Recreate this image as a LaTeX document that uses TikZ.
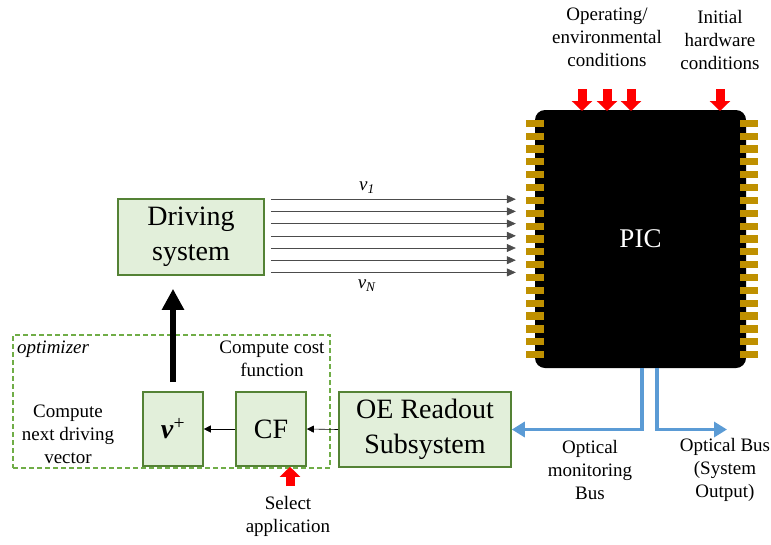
\documentclass[tikz,border=0pt]{standalone}
\usepackage{fontspec}
\setmainfont{Liberation Serif}
\usepackage{tikz}
\usetikzlibrary{arrows.meta,calc,positioning}

\definecolor{boxfill}{HTML}{E2EFDA}
\definecolor{boxline}{HTML}{548235}
\definecolor{optline}{HTML}{70AD47}
\definecolor{pingold}{HTML}{BF9000}
\definecolor{busblue}{HTML}{5B9BD5}

\tikzset{
    blk/.style={draw=boxline, fill=boxfill, line width=1.6pt, inner sep=0pt, align=center},
    lbl/.style={inner sep=0pt, align=center, font=\fontsize{19}{23}\selectfont},
    sig/.style={draw=black!70, line width=0.6pt, -{Triangle[length=9pt,width=8pt]}},
    link/.style={line width=0.6pt, -{Triangle[length=7pt,width=7pt]}},
    redarrow/.style={red, line width=9pt, -{Triangle[length=10pt,width=20pt]}},
    bus/.style={busblue, line width=3.5pt, -{Triangle[length=13pt,width=15pt]}},
    pin/.style={fill=pingold, draw=none}
}

\begin{document}
\begin{tikzpicture}[x=1pt, y=-1pt]
    \useasboundingbox (0,0) rectangle (771,544);

    \node[blk, minimum width=146pt, minimum height=76pt, font=\fontsize{28}{35}\selectfont] (drv) at (191,237) {Driving\\system};
    \node[draw=optline, dash pattern=on 5pt off 3pt, line width=1.2pt, minimum width=317pt, minimum height=133pt, inner sep=0pt] (opt) at (171.5,401.5) {};
    \node[lbl, anchor=west, font=\fontsize{19}{23}\selectfont\itshape] (optname) at (17,349) {optimizer};
    \node[blk, minimum width=60pt, minimum height=74pt, font=\fontsize{28}{34}\selectfont] (vplus) at (173,429) {\textbf{\textit{v}}\textsuperscript{+}};
    \node[blk, minimum width=70pt, minimum height=74pt, font=\fontsize{28}{34}\selectfont] (cf) at (271,429) {CF};
    \node[blk, minimum width=172pt, minimum height=75pt, font=\fontsize{28}{35}\selectfont] (oe) at (425,429.5) {OE Readout\\Subsystem};

    \node[fill=black, rounded corners=10pt, minimum width=211pt, minimum height=258pt, text=white, font=\fontsize{27}{32}\selectfont] (pic) at (640.5,239) {PIC};
    \foreach \k in {0,...,18} {
        \fill[pin] (526,{123.3+12.85*\k-3.6}) rectangle (544,{123.3+12.85*\k+3.6});
        \fill[pin] (740,{123.3+12.85*\k-3.6}) rectangle (758,{123.3+12.85*\k+3.6});
    }

    \foreach \k in {0,...,6} {
        \coordinate (s\k) at ([xshift=6pt, yshift={-(1+12.2*\k)*1pt}]drv.north east);
        \draw[sig, shorten >=19pt] (s\k) -- (s\k -| pic.west);
    }
    \node[lbl] (v1) at (367,188) {\textit{v}\textsubscript{\textit{1}}};
    \node[lbl] (vn) at (367,286) {\textit{v}\textsubscript{\textit{N}}};

    \draw[line width=6.5pt, -{Triangle[length=21pt,width=21pt]}, shorten <=9pt, shorten >=13pt] (vplus.north) -- (vplus.north |- drv.south);
    \draw[link] (cf.west) -- (vplus.east);
    \draw[link] (oe.west) -- (cf.east);

    \coordinate (outb) at (727,429.5);
    \draw[bus] ([xshift=1.5pt]pic.south) |- (oe.east);
    \draw[bus] ([xshift=16.5pt]pic.south) |- (outb);

    \foreach \x in {582,607,631,720}
        \draw[redarrow] (\x,89) -- (\x,111);
    \coordinate (sel) at (290,486);
    \draw[redarrow] (sel) -- (sel |- cf.south);

    \node[lbl] (opcond) at (607,37) {Operating/\\environmental\\conditions};
    \node[lbl] (hwcond) at (720,40) {Initial\\hardware\\conditions};
    \node[lbl] (cfcomp) at (272,359) {Compute cost\\function};
    \node[lbl] (vcomp) at (68,434) {Compute\\next driving\\vector};
    \node[lbl] (selapp) at (288,516) {Select\\application};
    \node[lbl] (monbus) at (590,470) {Optical\\monitoring\\Bus};
    \node[lbl] (outbus) at (725,470) {Optical Bus\\(System\\Output)};
\end{tikzpicture}
\end{document}
